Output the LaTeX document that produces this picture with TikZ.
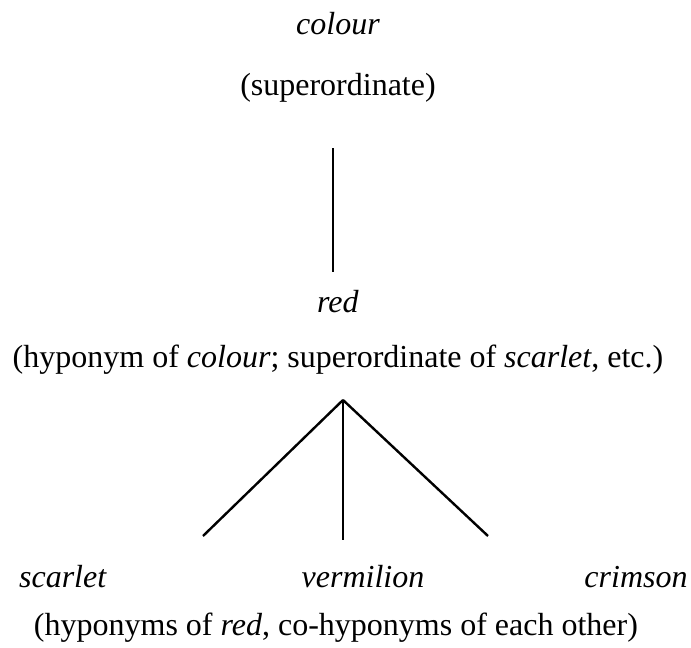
\documentclass[tikz,border=0pt]{standalone}
\usepackage{fontspec}
\setmainfont{Liberation Serif}
\begin{document}
\begin{tikzpicture}[x={(1pt,0)},y={(0,-1pt)},
  lbl/.style={inner sep=0pt,anchor=base,font=\fontsize{32}{36}\selectfont},
  link/.style={line width=2.4pt}]
\useasboundingbox (0,0) rectangle (691,648);
\node[lbl] (colour) at (338,34) {\textit{colour}};
\node[lbl] (super) at (338,95) {(superordinate)};
\node[lbl] (red) at (338,312) {\textit{red}};
\node[lbl] (hyp) at (338,367) {(hyponym of \textit{colour}; superordinate of \textit{scarlet}, etc.)};
\node[lbl] (scarlet) at (63,587) {\textit{scarlet}};
\node[lbl] (vermilion) at (363,587) {\textit{vermilion}};
\node[lbl] (crimson) at (636,587) {\textit{crimson}};
\node[lbl] (bottom) at (336,635) {(hyponyms of \textit{red}, co-hyponyms of each other)};
\coordinate (t1) at (333,148);
\coordinate (t2) at (333,272);
\coordinate (apex) at (343,400);
\coordinate (l) at (203,536);
\coordinate (m) at (343,540);
\coordinate (r) at (488,536);
\draw[link] (t1) -- (t2);
\draw[link] (apex) -- (l);
\draw[link] (apex) -- (m);
\draw[link] (apex) -- (r);
\end{tikzpicture}
\end{document}
